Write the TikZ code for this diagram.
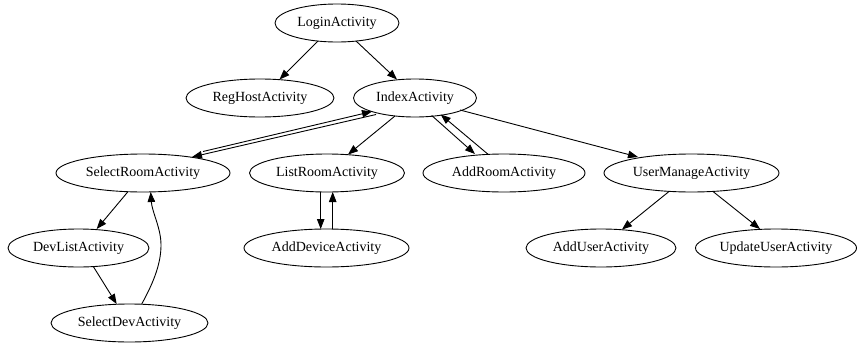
\documentclass[tikz,border=0pt]{standalone}
\usepackage{fontspec}
\setmainfont{Liberation Serif}
\usetikzlibrary{arrows.meta,calc,shapes.geometric}
\begin{document}
\begin{tikzpicture}[x=1pt,y=-1pt,
  act/.style={draw, ellipse, line width=0.9pt, inner sep=0pt, minimum height=38pt,
              font=\fontsize{14}{16}\selectfont},
  conn/.style={line width=0.9pt, -{Triangle[length=10pt,width=7.5pt]}}]
\useasboundingbox (0,0) rectangle (857,343);
% nodes
\node[act, minimum width=124pt] (login) at (337,23) {LoginActivity};
\node[act, minimum width=148pt] (reghost) at (260,98) {RegHostActivity};
\node[act, minimum width=123pt] (index) at (415,98) {IndexActivity};
\node[act, minimum width=174pt] (sr) at (143,173) {SelectRoomActivity};
\node[act, minimum width=155pt] (listroom) at (327,173) {ListRoomActivity};
\node[act, minimum width=162pt] (addroom) at (504,173) {AddRoomActivity};
\node[act, minimum width=175pt] (um) at (691.5,173) {UserManageActivity};
\node[act, minimum width=141pt] (devlist) at (78.5,248) {DevListActivity};
\node[act, minimum width=165pt] (adddev) at (326.5,248) {AddDeviceActivity};
\node[act, minimum width=150pt] (adduser) at (601,248) {AddUserActivity};
\node[act, minimum width=161pt] (updateuser) at (776,248) {UpdateUserActivity};
\node[act, minimum width=157pt] (selectdev) at (129.5,323) {SelectDevActivity};
% connectors
\draw[conn] ($(login)+(-19,18)$) -- ($(reghost)+(19.5,-18.5)$);
\draw[conn] ($(login)+(19,18)$) -- ($(index)+(-18,-18.5)$);
\draw[conn] ($(index)+(-20,18)$) -- ($(listroom)+(21,-18.5)$);
\draw[conn] ($(index)+(16.7,17.5)$) -- ($(addroom)+(-29,-19)$);
\draw[conn] ($(addroom)+(-15.7,-18.5)$) -- ($(index)+(25.7,16.5)$);
\draw[conn] ($(index)+(45,12)$) -- ($(um)+(-53.5,-16)$);
\draw[conn] ($(index)+(-39,16.5)$) -- ($(sr)+(49,-16)$);
\draw[conn] ($(sr)+(60,-21.5)$) -- ($(index)+(-43,13.5)$);
\draw[conn] ($(sr)+(-15.3,19)$) -- ($(devlist)+(18.2,-19)$);
\draw[conn] ($(devlist)+(14.8,18.5)$) -- ($(selectdev)+(-12.8,-19)$);
\draw[conn] ($(selectdev)+(12.2,-19)$) .. controls (155,280) and (161,262) .. (161,245)
  .. controls (161,228) and (152,212) .. ($(sr)+(7.7,19)$);
\draw[conn] ($(listroom)+(-6.3,19)$) -- ($(adddev)+(-5.8,-19)$);
\draw[conn] ($(adddev)+(6.2,-19)$) -- ($(listroom)+(5.7,19)$);
\draw[conn] ($(um)+(-22.5,18.5)$) -- ($(adduser)+(21,-18.5)$);
\draw[conn] ($(um)+(21.5,18.5)$) -- ($(updateuser)+(-16,-19)$);
\end{tikzpicture}
\end{document}
